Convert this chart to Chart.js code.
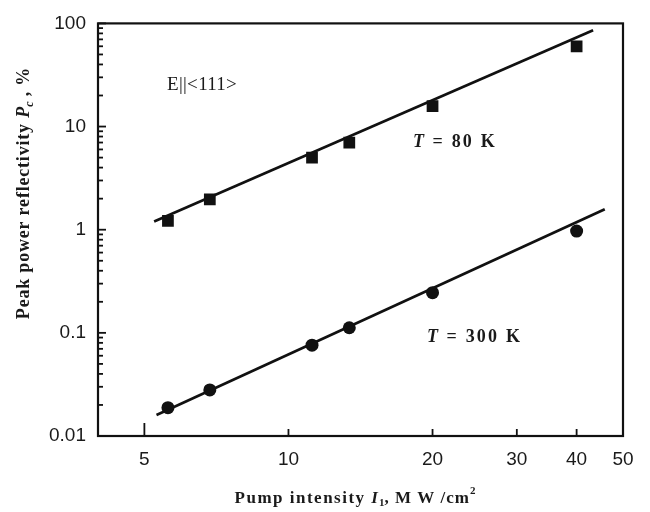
<!DOCTYPE html>
<html>
<head>
<meta charset="utf-8">
<script src="https://cdn.jsdelivr.net/npm/chart.js@4.4.0/dist/chart.umd.min.js"></script>
<style>
  html, body { margin: 0; padding: 0; background: #fff; }
  #wrap { width: 650px; height: 512px; }
</style>
</head>
<body>
<div id="wrap"><canvas id="chart" width="650" height="512"></canvas></div>
<script>
// values
const intensity = [5.6, 6.85, 11.2, 13.4, 20, 40];
const refl80K = [1.22, 1.97, 5.0, 7.0, 15.8, 60];
const refl300K = [0.0188, 0.028, 0.076, 0.112, 0.245, 0.97];

// end points of the fitted lines
const fit80X = [5.24, 43.3];
const fit80Y = [1.2, 86];
const fit300X = [5.3, 45.8];
const fit300Y = [0.016, 1.58];

const xTicks = [5, 10, 20, 30, 40, 50];
const xTickMarks = [5, 10, 20, 30, 40];
const yTicks = [0.01, 0.1, 1, 10, 100];
const yMinorSteps = [2, 3, 4, 5, 6, 7, 8, 9];

const SERIF = '"Liberation Serif", "Times New Roman", serif';
const SANS = '"Liberation Sans", Arial, sans-serif';

function pts(xs, ys) {
  return xs.map((x, i) => ({ x: x, y: ys[i] }));
}

// draw a run of text pieces with mixed styles, left to right from (x, y)
function drawRuns(ctx, runs, x, y) {
  runs.forEach((r) => {
    ctx.font = r.font;
    ctx.letterSpacing = (r.ls || 0) + "px";
    ctx.fillText(r.t, x, y + (r.dy || 0));
    x += ctx.measureText(r.t).width;
  });
  ctx.letterSpacing = "0px";
  return x;
}

function runsWidth(ctx, runs) {
  let w = 0;
  runs.forEach((r) => {
    ctx.font = r.font;
    ctx.letterSpacing = (r.ls || 0) + "px";
    w += ctx.measureText(r.t).width;
  });
  ctx.letterSpacing = "0px";
  return w;
}

const framePlugin = {
  id: "frame",
  afterDraw(chart) {
    const ctx = chart.ctx;
    const a = chart.chartArea;
    const xs = chart.scales.x;
    const ys = chart.scales.y;
    ctx.save();
    ctx.strokeStyle = "#111";

    // box
    ctx.lineWidth = 2.2;
    ctx.strokeRect(a.left, a.top, a.right - a.left, a.bottom - a.top);

    // x tick marks, pointing inward
    ctx.lineWidth = 1.8;
    xTickMarks.forEach((v) => {
      const px = xs.getPixelForValue(v);
      const len = v === 5 ? 13 : 7;
      ctx.beginPath();
      ctx.moveTo(px, a.bottom);
      ctx.lineTo(px, a.bottom - len);
      ctx.stroke();
    });

    // y tick marks, major and minor, pointing inward
    yTicks.forEach((v, i) => {
      const py = ys.getPixelForValue(v);
      ctx.beginPath();
      ctx.moveTo(a.left, py);
      ctx.lineTo(a.left + 8, py);
      ctx.stroke();
      if (i < yTicks.length - 1) {
        yMinorSteps.forEach((m) => {
          const my = ys.getPixelForValue(v * m);
          ctx.beginPath();
          ctx.moveTo(a.left, my);
          ctx.lineTo(a.left + 5, my);
          ctx.stroke();
        });
      }
    });

    ctx.fillStyle = "#1a1a1a";
    ctx.textBaseline = "alphabetic";

    // x axis title
    const B = "bold 17px " + SERIF;
    const BI = "italic bold 17px " + SERIF;
    const SM = "bold 11px " + SERIF;
    const xRuns = [
      { t: "Pump intensity ", font: B, ls: 1.5 },
      { t: "I", font: BI, ls: 1 },
      { t: "1", font: SM, dy: 3 },
      { t: ", M W /cm", font: B, ls: 1 },
      { t: "2", font: SM, dy: -9 }
    ];
    const xw = runsWidth(ctx, xRuns);
    drawRuns(ctx, xRuns, 355 - xw / 2, 503);

    // y axis title, rotated
    const YB = "bold 18px " + SERIF;
    const YBI = "italic bold 18px " + SERIF;
    const yRuns = [
      { t: "Peak power reflectivity ", font: YB, ls: 0.8 },
      { t: "P", font: YBI },
      { t: "c", font: "italic bold 12px " + SERIF, dy: 4 },
      { t: " , %", font: YB, ls: 0.8 }
    ];
    const yw = runsWidth(ctx, yRuns);
    ctx.save();
    ctx.translate(29, 193);
    ctx.rotate(-Math.PI / 2);
    drawRuns(ctx, yRuns, -yw / 2, 0);
    ctx.restore();

    // annotations
    drawRuns(ctx, [{ t: "E||<111>", font: "19px " + SERIF, ls: 0.3 }], 167, 90);
    drawRuns(ctx, [
      { t: "T", font: "italic bold 18px " + SERIF, ls: 1.8 },
      { t: " = 80 K", font: "bold 18px " + SERIF, ls: 2.2 }
    ], 413, 147);
    drawRuns(ctx, [
      { t: "T", font: "italic bold 18px " + SERIF, ls: 1.8 },
      { t: " = 300 K", font: "bold 18px " + SERIF, ls: 2.2 }
    ], 427, 342);

    ctx.restore();
  }
};

new Chart(document.getElementById("chart"), {
  type: "scatter",
  data: {
    datasets: [
      {
        label: "T = 80 K",
        data: pts(intensity, refl80K),
        pointStyle: "rect",
        pointRadius: 8.3,
        backgroundColor: "#111",
        borderColor: "#111",
        borderWidth: 0
      },
      {
        label: "T = 300 K",
        data: pts(intensity, refl300K),
        pointStyle: "circle",
        pointRadius: 6.5,
        backgroundColor: "#111",
        borderColor: "#111",
        borderWidth: 0
      },
      {
        label: "fit 80 K",
        data: pts(fit80X, fit80Y),
        showLine: true,
        pointRadius: 0,
        borderColor: "#111",
        borderWidth: 2.7
      },
      {
        label: "fit 300 K",
        data: pts(fit300X, fit300Y),
        showLine: true,
        pointRadius: 0,
        borderColor: "#111",
        borderWidth: 2.7
      }
    ]
  },
  options: {
    responsive: false,
    animation: false,
    layout: { padding: { top: 14, right: 27, left: 0, bottom: 0 } },
    plugins: {
      legend: { display: false },
      tooltip: { enabled: false }
    },
    scales: {
      x: {
        type: "logarithmic",
        min: 4,
        max: 50,
        afterBuildTicks: (s) => { s.ticks = xTicks.map((v) => ({ value: v })); },
        afterFit: (s) => { s.height = 76; },
        grid: { display: false, drawTicks: false },
        border: { display: false },
        ticks: {
          color: "#1a1a1a",
          font: { family: SANS, size: 19 },
          padding: 12,
          maxRotation: 0,
          autoSkip: false,
          callback: (v) => String(v)
        }
      },
      y: {
        type: "logarithmic",
        min: 0.01,
        max: 100,
        afterBuildTicks: (s) => { s.ticks = yTicks.map((v) => ({ value: v })); },
        afterFit: (s) => { s.width = 98; },
        grid: { display: false, drawTicks: false },
        border: { display: false },
        ticks: {
          color: "#1a1a1a",
          font: { family: SANS, size: 19 },
          padding: 12,
          autoSkip: false,
          callback: (v) => String(v)
        }
      }
    }
  },
  plugins: [framePlugin]
});
</script>
</body>
</html>
